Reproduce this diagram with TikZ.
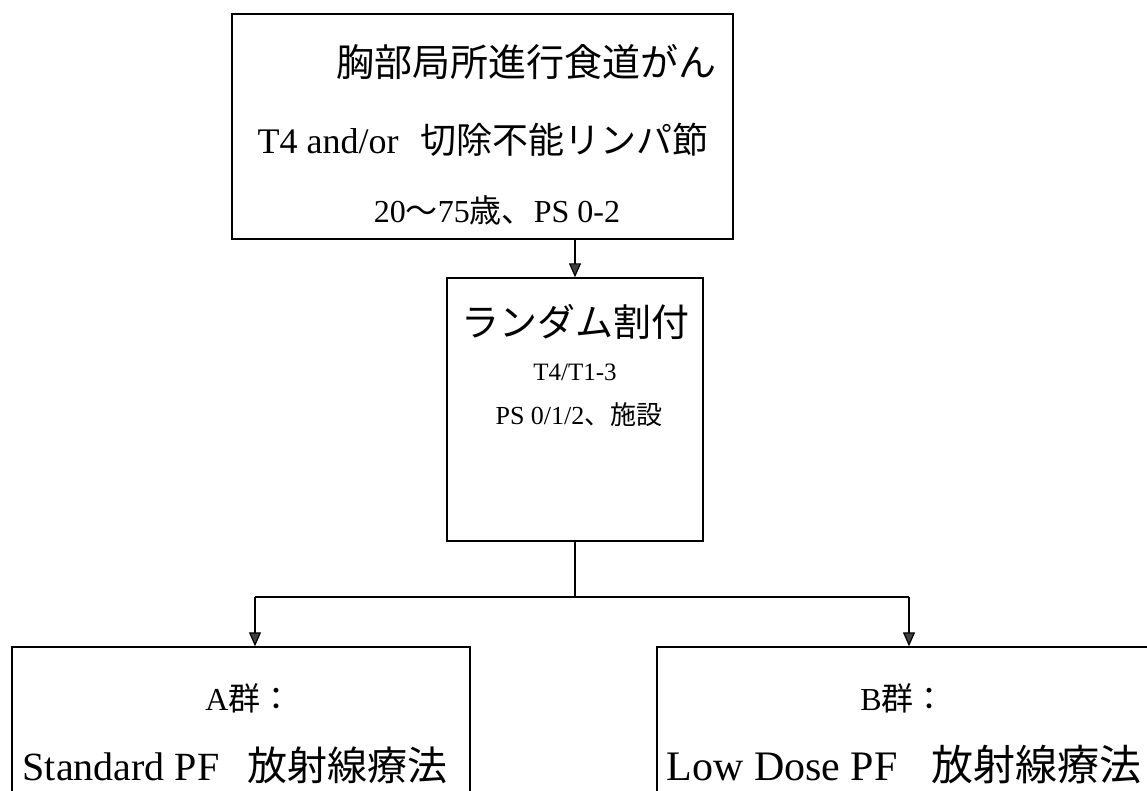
\documentclass[tikz,border=0pt]{standalone}
\usepackage{fontspec}
\setmainfont{Liberation Serif}
\newfontfamily\jp{Noto Sans CJK JP}
\usetikzlibrary{arrows.meta}
\newcommand\jpt[1]{{\jp #1}}
\begin{document}
\begin{tikzpicture}[x=1pt,y=-1pt,
  box/.style={draw, line width=1.4pt, rectangle, inner sep=0pt},
  txt/.style={inner sep=0pt, anchor=center},
  big/.style={font=\fontsize{38}{40}\selectfont},
  line2/.style={font=\fontsize{36}{38}\selectfont},
  mid2/.style={font=\fontsize{32}{34}\selectfont},
  small/.style={font=\fontsize{25}{27}\selectfont},
  small2/.style={font=\fontsize{26}{28}\selectfont},
  bottom/.style={font=\fontsize{40}{42}\selectfont},
  line/.style={line width=1.2pt},
  arr/.style={line width=1.2pt, -{Triangle[width=12pt,length=14pt,fill=black!75]}}]
\useasboundingbox (0,0) rectangle (1147,791);
\clip (0,0) rectangle (1147,791);
\fill[white] (0,0) rectangle (1147,791);
% boxes
\node[box, minimum width=501, minimum height=225] (top) at (482.5,126.5) {};
\node[box, minimum width=256, minimum height=263] (mid) at (575,409.5) {};
\node[box, minimum width=458, minimum height=200] (A) at (241,747) {};
\node[box, minimum width=520, minimum height=200] (B) at (917,747) {};
% texts
\node[txt, big] (t1) at (526,62) {\jpt{胸部局所進行食道がん}};
\node[txt, line2] (t2) at (483,140) {T4 and/or\hspace{0.6em}\jpt{切除不能リンパ節}};
\node[txt, mid2] (t3) at (497,210) {20\jpt{〜}75\jpt{歳、}PS 0-2};
\node[txt, big] (m1) at (575,322) {\jpt{ランダム割付}};
\node[txt, small] (m2) at (575,372) {T4/T1-3};
\node[txt, small2] (m3) at (579,415) {PS 0/1/2\jpt{、施設}};
\node[txt, mid2] (a1) at (249,698) {A\jpt{群：}};
\node[txt, bottom] (a2) at (235,765) {Standard PF\hspace{0.7em}\jpt{放射線療法}};
\node[txt, mid2] (b1) at (903,698) {B\jpt{群：}};
\node[txt, bottom, font=\fontsize{42}{44}\selectfont] (b2) at (904,765) {Low Dose PF\hspace{0.8em}\jpt{放射線療法}};
% connectors
\coordinate (ja) at (255,597);
\coordinate (jb) at (909,597);
\draw[arr] (top.south -| mid.north) -- (mid.north);
\draw[line] (mid.south) -- (mid.south |- ja);
\draw[line] (ja) -- (jb);
\draw[arr] (ja) -- (ja |- A.north);
\draw[arr] (jb) -- (jb |- B.north);
\end{tikzpicture}
\end{document}
